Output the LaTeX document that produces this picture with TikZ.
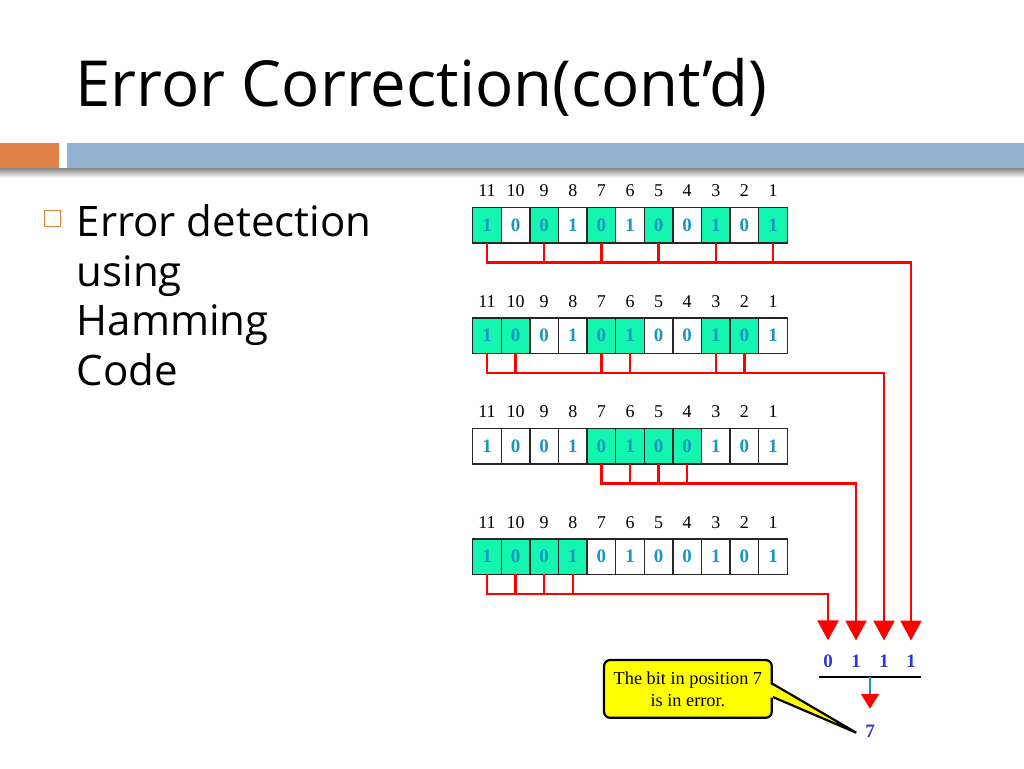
\documentclass[tikz,border=0pt]{standalone}
\usepackage{fontspec}
\setmainfont{Open Sans}
\newfontfamily\timesfont{Liberation Serif}
\usetikzlibrary{positioning,arrows.meta}

\definecolor{slideorange}{RGB}{224,130,70}
\definecolor{slideblue}{RGB}{147,179,211}
\definecolor{cellgreen}{RGB}{20,245,175}
\definecolor{bitteal}{RGB}{25,150,195}
\definecolor{bitblue}{RGB}{45,55,215}
\definecolor{notefill}{RGB}{255,255,0}

\tikzset{
    cell/.style={draw=black!85, line width=1.3pt, minimum width=28.6pt, minimum height=35.5pt,
        inner sep=0pt, outer sep=0pt, text=bitteal, font=\timesfont\bfseries\fontsize{19}{19}\selectfont},
    poslabel/.style={inner sep=0pt, font=\timesfont\fontsize{18}{18}\selectfont},
    wire/.style={red, line width=2.5pt, line join=miter},
    bigtip/.style={-{Triangle[width=21pt,length=20pt]}, shorten >=14pt},
    result/.style={inner sep=0pt, text=bitblue, font=\timesfont\bfseries\fontsize{19}{19}\selectfont},
    note/.style={draw=black, line width=2.2pt, fill=notefill, rounded corners=6pt,
        minimum width=167.7pt, minimum height=57.7pt, inner sep=0pt, align=center,
        font=\timesfont\fontsize{18.3}{22}\selectfont},
    bullettext/.style={inner sep=0pt, anchor=base west, font=\fontsize{42}{42}\selectfont},
}

\begin{document}
\begin{tikzpicture}[x=1pt, y=1pt]
    \useasboundingbox (0,0) rectangle (1024,768);

    \node[inner sep=0pt, anchor=base west, font=\fontsize{63.5}{63.5}\selectfont] (title) at (75,661) {Error Correction(cont’d)};
    \shade[top color=black!45, bottom color=white] (0,590) rectangle (1024,599.7);
    \fill[slideorange] (0,599.7) rectangle (59,624.7);
    \fill[slideblue] (66.7,599.7) rectangle (1024,624.7);

    \node[draw=slideorange, line width=1.1pt, minimum size=16.5pt, inner sep=0pt] (bullet) at (52.3,549.6) {};
    \node[bullettext] (line1) at (76.5,531) {Error detection};
    \node[bullettext] (line2) at ([yshift=-49.5pt]line1.base west) {using};
    \node[bullettext] (line3) at ([yshift=-49.5pt]line2.base west) {Hamming};
    \node[bullettext] (line4) at ([yshift=-49.5pt]line3.base west) {Code};

    \foreach \r in {1,...,4} {
        \pgfmathtruncatemacro\mask{2^(\r-1)}
        \foreach \p/\b [count=\i from 0] in {11/1,10/0,9/0,8/1,7/0,6/1,5/0,4/0,3/1,2/0,1/1} {
            \pgfmathtruncatemacro\on{mod(floor(\p/\mask),2)}
            \ifnum\on=1 \def\cellcol{cellgreen}\else\def\cellcol{white}\fi
            \node[cell, fill=\cellcol] (c\r-\p) at ({487+28.6*\i},{542.8-110.5*(\r-1)}) {\b};
            \node[poslabel] (l\r-\p) at ([yshift=16.75pt]c\r-\p.north) {\p};
        }
    }

    \node[result] (res8) at (828,107) {0};
    \node[result] (res4) at (856,107) {1};
    \node[result] (res2) at (884,107) {1};
    \node[result] (res1) at (911,107) {1};

    \draw[wire, bigtip] (c1-11.south) -- ++(0,-19.5) -| (res1);
    \foreach \p in {9,7,5,3,1} \draw[wire] (c1-\p.south) -- ++(0,-19.5);
    \draw[wire, bigtip] (c2-11.south) -- ++(0,-19.5) -| (res2);
    \foreach \p in {10,7,6,3,2} \draw[wire] (c2-\p.south) -- ++(0,-19.5);
    \draw[wire, bigtip] (c3-7.south) -- ++(0,-19.5) -| (res4);
    \foreach \p in {6,5,4} \draw[wire] (c3-\p.south) -- ++(0,-19.5);
    \draw[wire, bigtip] (c4-11.south) -- ++(0,-19.5) -| (res8);
    \foreach \p in {10,9,8} \draw[wire] (c4-\p.south) -- ++(0,-19.5);

    \node[result] (seven) at (870,36.3) {7};
    \coordinate (sumL) at (818.7,91);
    \coordinate (sumR) at (920.7,91);
    \coordinate (sum) at (870,91);
    \draw[line width=1.4pt] (sumL) -- (sumR);
    \draw[bitteal, line width=2pt, -{Triangle[width=18pt,length=15pt,color=red]}, shorten >=16.5pt] (sum) -- (seven);

    \node[note] (note) at (687.9,79.1) {The bit in position 7\\is in error.};
    \coordinate (pa) at ([yshift=4.9pt]note.east);
    \coordinate (pb) at ([yshift=-8.1pt]note.east);
    \coordinate (ptip) at ([xshift=-8.8pt,yshift=-1pt]seven.west);
    \fill[notefill] ([xshift=-3pt]pa) -- (ptip) -- ([xshift=-3pt]pb) -- cycle;
    \draw[line width=2.2pt] (pa) -- (ptip) -- (pb);
\end{tikzpicture}
\end{document}
